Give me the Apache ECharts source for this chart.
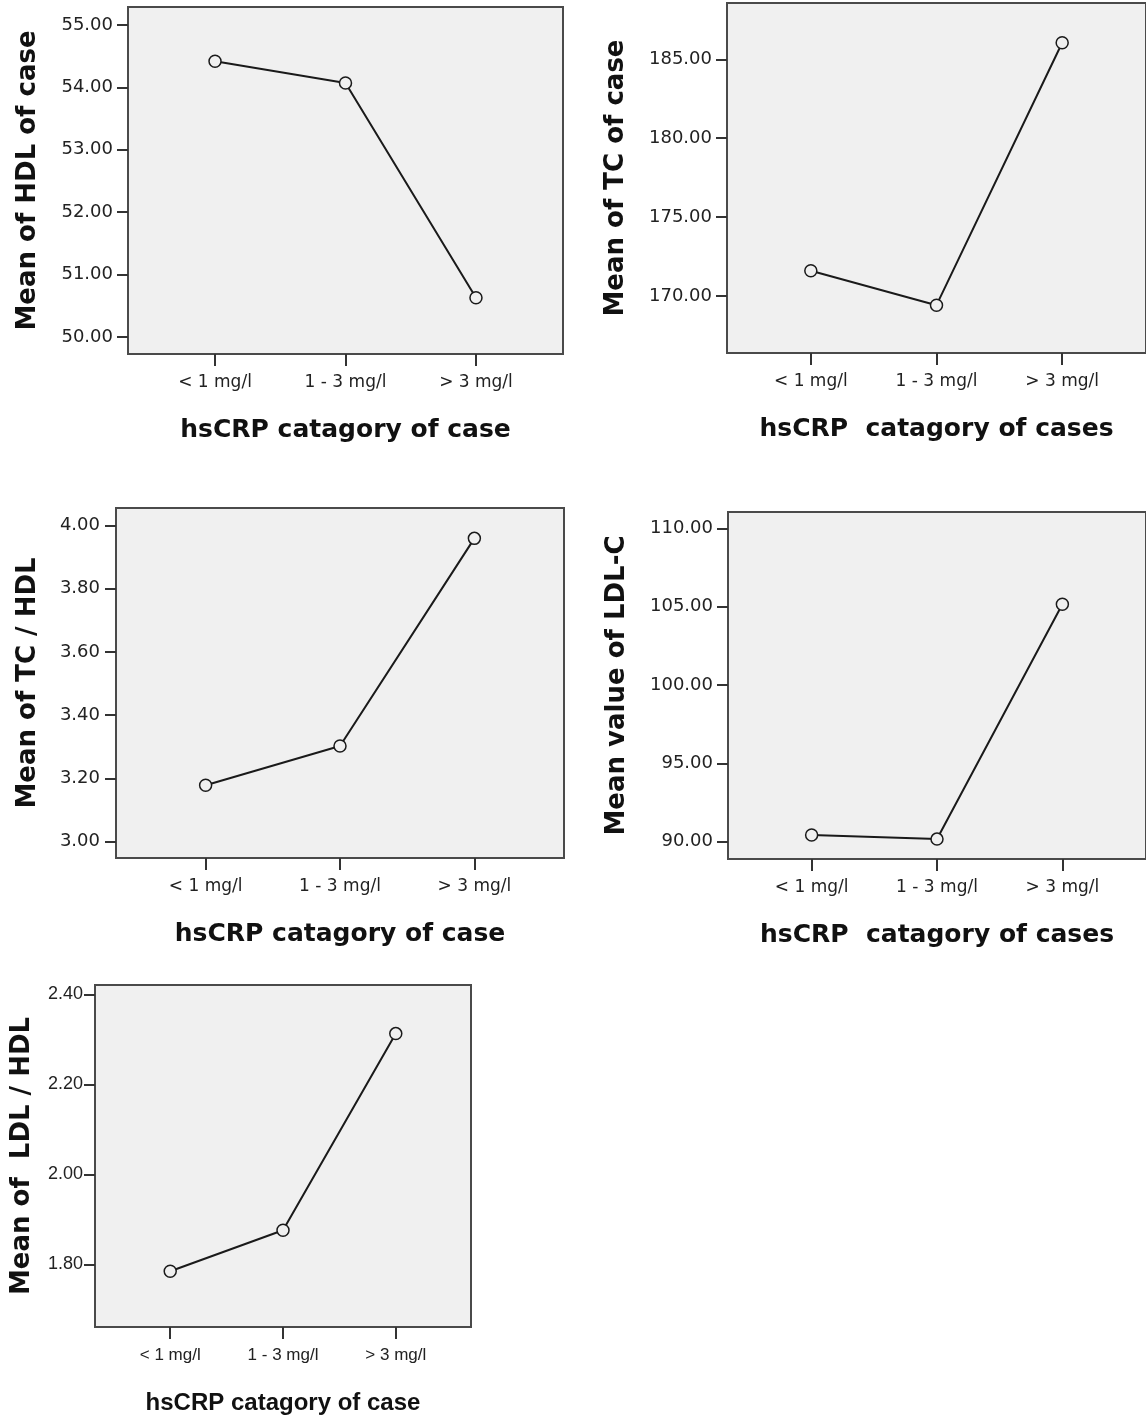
<!DOCTYPE html>
<html>
<head>
<meta charset="utf-8">
<script src="https://cdn.jsdelivr.net/npm/echarts@6/dist/echarts.min.js"></script>
<style>
html,body{margin:0;padding:0;background:#fff;}
#chart{width:1146px;height:1420px;}
</style>
</head>
<body>
<div id="chart"></div>
<script>
// ---- data ----
const categories = ['< 1 mg/l', '1 - 3 mg/l', '> 3 mg/l'];
const hdlMeans = [54.42, 54.07, 50.63];
const tcMeans = [171.60, 169.42, 186.05];
const tcHdlMeans = [3.178, 3.302, 3.959];
const ldlMeans = [90.43, 90.17, 105.15];
const ldlHdlMeans = [1.785, 1.876, 2.313];

const hdlTicks = [50, 51, 52, 53, 54, 55];
const tcTicks = [170, 175, 180, 185];
const tcHdlTicks = [3.0, 3.2, 3.4, 3.6, 3.8, 4.0];
const ldlTicks = [90, 95, 100, 105, 110];
const ldlHdlTicks = [1.8, 2.0, 2.2, 2.4];

const yTitles = ['Mean of HDL of case', 'Mean of TC of case', 'Mean of TC / HDL', 'Mean value of LDL-C', 'Mean of  LDL / HDL'];
const xTitles = ['hsCRP catagory of case', 'hsCRP  catagory of cases', 'hsCRP catagory of case', 'hsCRP  catagory of cases', 'hsCRP catagory of case'];

// ---- layout (pixels / ranges) ----
const panels = [
  {values: hdlMeans, ticks: hdlTicks, left: 128, top: 7, width: 435, height: 347, yMin: 49.728, yMax: 55.288, yGap: 87, font: 'DejaVu Sans', tickFont: 18, labelFont: 17, xTitleFont: 25, xTitleFamily: 'DejaVu Sans', yMargin: 15},
  {values: tcMeans, ticks: tcTicks, left: 727, top: 3, width: 426, height: 350, yMin: 166.39, yMax: 188.57, yGap: 98, font: 'DejaVu Sans', tickFont: 18, labelFont: 17, xTitleFont: 25, xTitleFamily: 'DejaVu Sans', yMargin: 15},
  {values: tcHdlMeans, ticks: tcHdlTicks, left: 116, top: 508, width: 448, height: 350, yMin: 2.948, yMax: 4.055, yGap: 75, font: 'DejaVu Sans', tickFont: 18, labelFont: 17, xTitleFont: 25, xTitleFamily: 'DejaVu Sans', yMargin: 16},
  {values: ldlMeans, ticks: ldlTicks, left: 728, top: 512, width: 425, height: 347, yMin: 88.9, yMax: 111.04, yGap: 98, font: 'DejaVu Sans', tickFont: 18, labelFont: 17, xTitleFont: 25, xTitleFamily: 'DejaVu Sans', yMargin: 15},
  {values: ldlHdlMeans, ticks: ldlHdlTicks, left: 95, top: 985, width: 376, height: 342, yMin: 1.661, yMax: 2.421, yGap: 60, font: 'Liberation Sans', tickFont: 18, labelFont: 17, xTitleFont: 24, xTitleFamily: 'Liberation Sans', yMargin: 12}
];

const grid = [], xAxis = [], yAxis = [], series = [];
panels.forEach((p, i) => {
  grid.push({
    left: p.left, top: p.top, width: p.width, height: p.height,
    show: true, backgroundColor: '#f0f0f0', borderColor: '#4a4a4a', borderWidth: 2
  });
  xAxis.push({
    type: 'value', gridIndex: i, min: -0.667, max: 2.667, position: 'bottom',
    splitLine: {show: false},
    axisLine: {show: false, onZero: false},
    axisTick: {show: true, length: 12, customValues: [0, 1, 2], lineStyle: {color: '#333', width: 2}},
    axisLabel: {
      customValues: [0, 1, 2], margin: 20,
      formatter: v => categories[Math.round(v)],
      fontFamily: p.font, fontSize: p.labelFont, color: '#222'
    },
    name: xTitles[i], nameLocation: 'middle', nameGap: 64,
    nameTextStyle: {fontFamily: p.xTitleFamily, fontWeight: 'bold', fontSize: p.xTitleFont, color: '#111'}
  });
  yAxis.push({
    type: 'value', gridIndex: i, min: p.yMin, max: p.yMax, position: 'left',
    splitLine: {show: false},
    axisLine: {show: false, onZero: false},
    axisTick: {show: true, length: 11, customValues: p.ticks, lineStyle: {color: '#333', width: 2}},
    axisLabel: {
      customValues: p.ticks, margin: p.yMargin,
      formatter: v => Number(v).toFixed(2),
      fontFamily: p.font, fontSize: p.tickFont, color: '#222'
    },
    name: yTitles[i], nameLocation: 'middle', nameGap: p.yGap,
    nameTextStyle: {fontFamily: 'DejaVu Sans', fontWeight: 'bold', fontSize: 26, color: '#111'}
  });
  series.push({
    type: 'line', xAxisIndex: i, yAxisIndex: i,
    data: p.values.map((v, k) => [k, v]),
    symbol: 'circle', symbolSize: 12,
    lineStyle: {color: '#1a1a1a', width: 2},
    itemStyle: {color: '#f0f0f0', borderColor: '#1a1a1a', borderWidth: 1.5},
    z: 5,
    animation: false
  });
});

const chart = echarts.init(document.getElementById('chart'), null, {renderer: 'canvas'});
chart.setOption({
  backgroundColor: '#ffffff',
  animation: false,
  grid, xAxis, yAxis, series
});
</script>
</body>
</html>
